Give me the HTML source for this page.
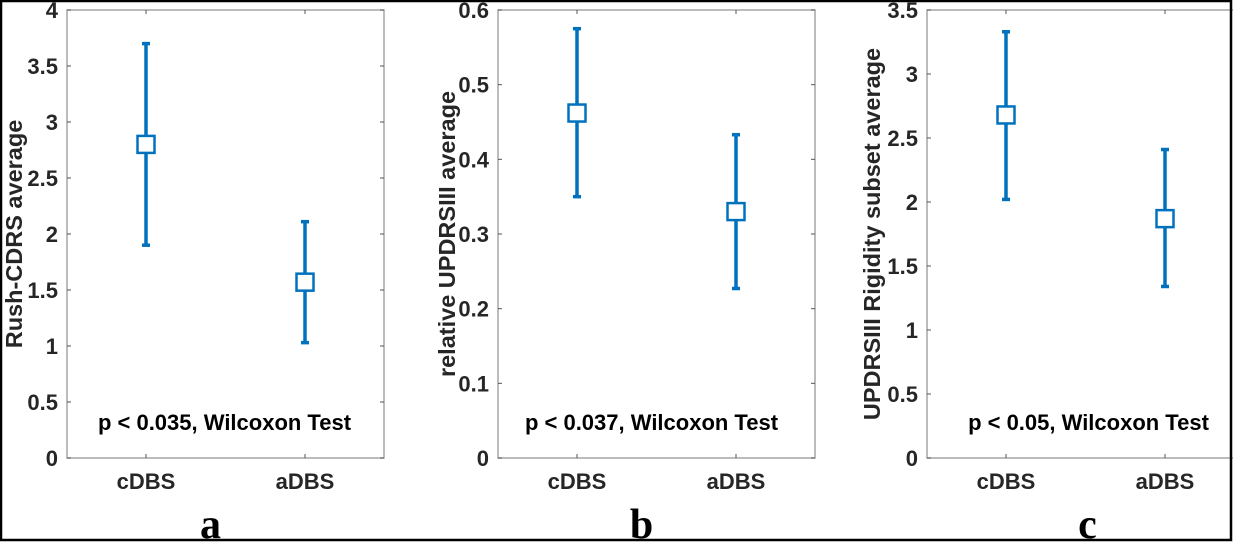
<!DOCTYPE html>
<html><head><meta charset="utf-8"><style>
body{margin:0;background:#fff;}
svg{display:block;font-family:"Liberation Sans",sans-serif;}
.tick{font-size:22px;font-weight:bold;fill:#262626;}
.yl{font-size:23.5px;font-weight:bold;fill:#262626;}
.pt{font-size:22px;font-weight:bold;fill:#000;}
.let{font-family:"Liberation Serif",serif;font-size:42px;font-weight:bold;fill:#000;}
</style></head><body>
<svg id="fig" width="1233" height="543"></svg>
<script>
const categories = ["cDBS","aDBS"];
const meansA = [2.8, 1.57];
const lowA = [1.9, 1.03];
const highA = [3.7, 2.11];
const ticksA = ["0","0.5","1","1.5","2","2.5","3","3.5","4"];
const meansB = [0.462, 0.33];
const lowB = [0.35, 0.227];
const highB = [0.575, 0.433];
const ticksB = ["0","0.1","0.2","0.3","0.4","0.5","0.6"];
const meansC = [2.68, 1.87];
const lowC = [2.02, 1.34];
const highC = [3.33, 2.41];
const ticksC = ["0","0.5","1","1.5","2","2.5","3","3.5"];

const NS="http://www.w3.org/2000/svg";
const svgRoot=document.getElementById('fig');
function mk(tag,attrs,parent,text){const e=document.createElementNS(NS,tag);for(const k in attrs)e.setAttribute(k,attrs[k]);if(text!==undefined)e.textContent=text;(parent||svgRoot).appendChild(e);return e;}

const panels=[
 {id:'a',left:67,means:meansA,low:lowA,high:highA,ticks:ticksA,max:4,ylabel:'Rush-CDRS average',ylx:22,p:'p < 0.035, Wilcoxon Test',pdx:-1,letter:'a'},
 {id:'b',left:498,means:meansB,low:lowB,high:highB,ticks:ticksB,max:0.6,ylabel:'relative UPDRSIII average',ylx:455,p:'p < 0.037, Wilcoxon Test',pdx:-5,letter:'b'},
 {id:'c',left:927,means:meansC,low:lowC,high:highC,ticks:ticksC,max:3.5,ylabel:'UPDRSIII Rigidity subset average',ylx:880,p:'p < 0.05, Wilcoxon Test',pdx:3,letter:'c'}
];
const plotTop=10,plotBottom=458,plotW=317;
panels.forEach(P=>{
  const g=mk('g',{});
  
  
  const y=v=>plotBottom-(v/P.max)*(plotBottom-plotTop);
  const x=i=>P.left+79+i*159;
  const box=mk('rect',{x:P.left,y:plotTop,width:plotW,height:plotBottom-plotTop,fill:'none',stroke:'#a6a6a6','stroke-width':1.5},g);
  
  
  P.ticks.forEach(t=>{
    const v=parseFloat(t),yy=y(v);
    mk('line',{x1:P.left,x2:P.left+4,y1:yy,y2:yy,stroke:'#555','stroke-width':1},g);
    mk('line',{x1:P.left+plotW,x2:P.left+plotW-4,y1:yy,y2:yy,stroke:'#555','stroke-width':1},g);
    const tl=mk('text',{x:P.left-9,y:yy+8,'text-anchor':'end',class:'tick'},g,t);
    
    
  });
  categories.forEach((c,i)=>{
    const xx=x(i);
    mk('line',{x1:xx,x2:xx,y1:plotBottom,y2:plotBottom-4,stroke:'#555','stroke-width':1},g);
    mk('line',{x1:xx,x2:xx,y1:plotTop,y2:plotTop+4,stroke:'#555','stroke-width':1},g);
    const xl=mk('text',{x:xx,y:489,'text-anchor':'middle',class:'tick'},g,c);
    
    
    const eb=mk('line',{x1:xx,x2:xx,y1:y(P.low[i]),y2:y(P.high[i]),stroke:'#0072BD','stroke-width':3.5},g);
    
    
    [P.low[i],P.high[i]].forEach(v=>{mk('line',{x1:xx-4,x2:xx+4,y1:y(v),y2:y(v),stroke:'#0072BD','stroke-width':3.5},g);});
    const m=mk('rect',{x:xx-8.5,y:y(P.means[i])-8.5,width:17,height:17,fill:'#fff',stroke:'#0072BD','stroke-width':2.5},g);
    
    
  });
  const cy=(plotTop+plotBottom)/2;
  const yl=mk('text',{x:P.ylx,y:cy,'text-anchor':'middle',class:'yl',transform:`rotate(-90 ${P.ylx} ${cy})`},g,P.ylabel);
  
  
  const pt=mk('text',{x:P.left+plotW/2+P.pdx,y:430,'text-anchor':'middle',class:'pt'},g,P.p);
  
  
  const lt=mk('text',{x:P.left+plotW/2-15+(P.id==='c'?17:0),y:538,'text-anchor':'middle',class:'let'},g,P.letter);
  
  
});
const fr=mk('rect',{x:1,y:1,width:1230,height:539,fill:'none',stroke:'#000','stroke-width':2.5});


</script>
</body></html>
